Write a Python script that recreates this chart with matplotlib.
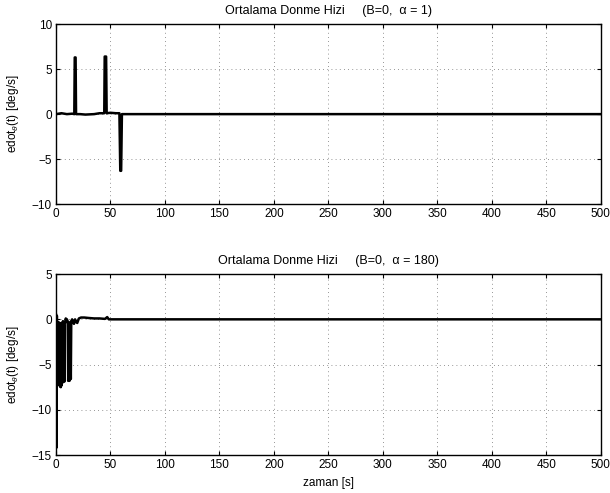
import numpy as np
import matplotlib
matplotlib.use('Agg')
import matplotlib.pyplot as plt

plt.rcParams['font.family'] = ['Liberation Sans', 'DejaVu Sans']
plt.rcParams['mathtext.fontset'] = 'custom'
plt.rcParams['mathtext.rm'] = 'Liberation Sans'
plt.rcParams['mathtext.it'] = 'Liberation Sans:italic'
plt.rcParams['font.size'] = 8.5

# ---- average rotation rate, alpha = 1 ----
t_a1 = [0, 5, 10, 15, 16.8, 17.2, 18.0, 18.4, 22, 27, 35, 40, 44.3, 44.7,
        46.0, 46.5, 50, 55, 58.2, 59.0, 59.8, 60.5, 65, 80, 500]
w_a1 = [0, 0.1, 0, 0.05, 0, 6.3, 6.3, 0, 0, -0.05, 0, 0.1, 0.1, 6.4,
        6.4, 0.1, 0.15, 0.1, 0.1, -6.3, -6.3, 0, 0, 0, 0]

# ---- average rotation rate, alpha = 180 ----
t_a180 = [0, 0.4, 0.8, 1.2, 1.6, 2.0, 2.4, 2.8, 3.2, 3.6, 4.0, 4.4, 4.8, 5.2,
          5.6, 6.0, 6.4, 6.8, 7.2, 7.6, 8.0, 8.5, 9.0, 9.5, 10.0, 10.7, 11.2,
          11.8, 12.4, 13.0, 13.6, 14.0, 14.8, 15.5, 16.5, 17.5, 18.5, 19.5,
          21, 23, 26, 30, 35, 40, 45, 47, 48.5, 52, 500]
w_a180 = [0.5, -14.2, 0.4, -6.8, -0.6, -7.0, -0.3, -7.2, -0.8, -7.4, -0.5,
          -7.5, -0.4, -7.3, -0.6, -7.0, -0.2, -6.6, -0.7, -6.9, -0.5, -0.3,
          0.1, -0.2, 0.0, -0.2, -6.8, -0.4, -6.8, -0.3, -6.6, -0.2, 0.0,
          -0.3, -0.5, 0.0, -0.3, -0.4, 0.1, 0.2, 0.2, 0.15, 0.1, 0.1, 0.05,
          0.25, 0, 0, 0]

x_ticks = np.arange(0, 501, 50)

fig = plt.figure(figsize=(6.10, 4.93), dpi=100)
ax1 = fig.add_axes([0.0918, 0.586, 0.893, 0.365])
ax2 = fig.add_axes([0.0918, 0.077, 0.893, 0.367])

panels = [
    (ax1, t_a1, w_a1, (-10, 10), [-10, -5, 0, 5, 10], 1),
    (ax2, t_a180, w_a180, (-15, 5), [-15, -10, -5, 0, 5], 180),
]

for ax, t, w, ylim, yticks, alpha in panels:
    ax.plot(t, w, color='k', linewidth=1.8)
    ax.set_xlim(0, 500)
    ax.set_ylim(*ylim)
    ax.set_xticks(x_ticks)
    ax.set_yticks(yticks)
    ax.grid(True, linestyle=(0, (1, 4)), color='k', linewidth=0.6, alpha=0.55)
    ax.tick_params(direction='in', top=True, right=True, length=3,
                   labelsize=8.5, pad=3)
    for sp in ax.spines.values():
        sp.set_linewidth(1.0)
    ax.set_ylabel(r'edot$_\theta$(t) [deg/s]', fontsize=8.5, labelpad=8)
    ax.set_title('Ortalama Donme Hizi     (B=0,  \u03b1 = %d)' % alpha,
                 fontsize=9, pad=7)

ax2.set_xlabel('zaman [s]', fontsize=8.5, labelpad=4)

fig.savefig('out.png', dpi=100)
